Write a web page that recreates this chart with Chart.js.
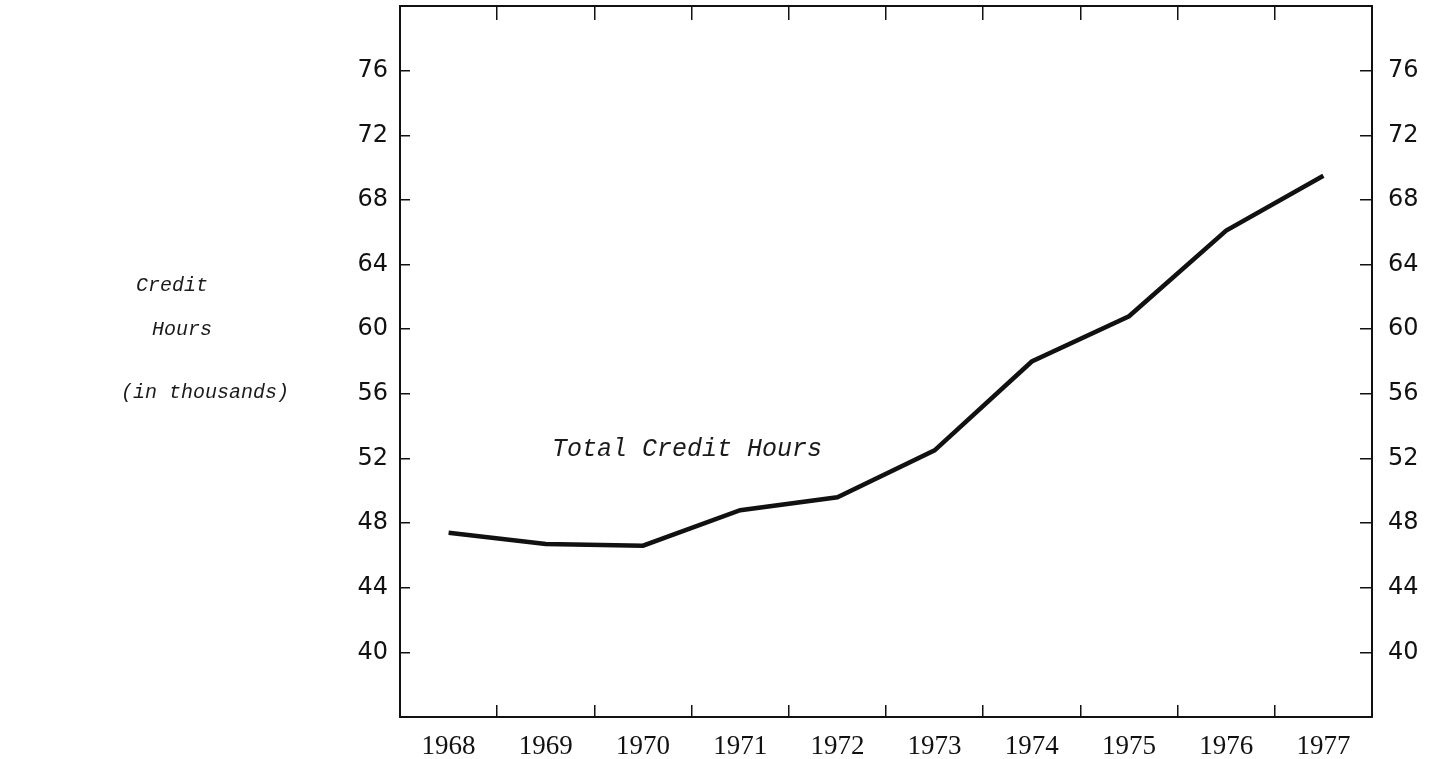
<!DOCTYPE html>
<html>
<head>
<meta charset="utf-8">
<title>Total Credit Hours 1968-1977</title>
<script src="https://cdn.jsdelivr.net/npm/chart.js@4.4.1/dist/chart.umd.min.js"></script>
<style>
    html, body { margin: 0; padding: 0; background: #fff; }
    #wrap { position: relative; width: 1432px; height: 759px; }
    .rotulo {
        position: absolute;
        font-family: "Liberation Mono", "DejaVu Sans Mono", monospace;
        font-style: italic;
        color: #1a1a1a;
        white-space: nowrap;
        transform: translate(-50%, -50%);
    }
    .eixo { font-size: 20px; }
    .serie { font-size: 25px; }
</style>
</head>
<body>
<div id="wrap">
    <canvas id="grafico" width="1432" height="759"></canvas>
    <div class="rotulo eixo" style="left:172px; top:285px;">Credit</div>
    <div class="rotulo eixo" style="left:182px; top:329px;">Hours</div>
    <div class="rotulo eixo" style="left:205px; top:392px;">(in thousands)</div>
    <div class="rotulo serie" style="left:687px; top:449px;">Total Credit Hours</div>
</div>
<script>
// dados (milhares de horas)
const anos = ['1968', '1969', '1970', '1971', '1972', '1973', '1974', '1975', '1976', '1977'];
const horasCredito = [47.4, 46.7, 46.6, 48.8, 49.6, 52.5, 58.0, 60.8, 66.1, 69.5];
const ticksY = [40, 44, 48, 52, 56, 60, 64, 68, 72, 76];

const preto = '#111';

// so os ticks de 40 a 76, o eixo vai de 36 a 80
function ticksFixos(scale) {
    scale.ticks = ticksY.map(v => ({ value: v }));
}

// tira o espaco extra que o Chart.js reserva para os rotulos
function semPadding(scale) {
    scale.paddingTop = 0;
    scale.paddingBottom = 0;
    scale.paddingLeft = 0;
    scale.paddingRight = 0;
}

const ctx = document.getElementById('grafico').getContext('2d');

new Chart(ctx, {
    type: 'line',
    data: {
        labels: anos,
        datasets: [{
            label: 'Total Credit Hours',
            data: horasCredito,
            borderColor: preto,
            borderWidth: 4.5,
            pointRadius: 0,
            tension: 0,
            fill: false,
            xAxisID: 'x',
            yAxisID: 'y'
        }]
    },
    options: {
        responsive: false,
        animation: false,
        devicePixelRatio: 1,
        layout: { padding: 0 },
        plugins: {
            legend: { display: false },
            tooltip: { enabled: false }
        },
        scales: {
            x: {
                type: 'category',
                position: 'bottom',
                offset: true,
                grid: {
                    offset: true,
                    drawOnChartArea: false,
                    drawTicks: true,
                    tickLength: -12,
                    color: preto,
                    lineWidth: 1.5
                },
                border: { display: true, color: preto, width: 2 },
                ticks: {
                    color: preto,
                    font: { family: '"Liberation Serif", serif', size: 27 },
                    padding: 26,
                    maxRotation: 0,
                    autoSkip: false
                },
                afterFit: s => { s.height = 42; semPadding(s); }
            },
            xTopo: {
                type: 'category',
                position: 'top',
                display: true,
                offset: true,
                grid: {
                    offset: true,
                    drawOnChartArea: false,
                    drawTicks: true,
                    tickLength: -14,
                    color: preto,
                    lineWidth: 1.5
                },
                border: { display: true, color: preto, width: 2 },
                ticks: { display: false },
                afterFit: s => { s.height = 6; semPadding(s); }
            },
            y: {
                type: 'linear',
                position: 'left',
                min: 36,
                max: 80,
                afterBuildTicks: ticksFixos,
                grid: {
                    drawOnChartArea: false,
                    drawTicks: true,
                    tickLength: -10,
                    color: preto,
                    lineWidth: 1.5
                },
                border: { display: true, color: preto, width: 2 },
                ticks: {
                    color: preto,
                    font: { family: '"DejaVu Sans", sans-serif', size: 24 },
                    padding: 22
                },
                afterFit: s => { s.width = 400; semPadding(s); }
            },
            yDireita: {
                type: 'linear',
                position: 'right',
                display: true,
                min: 36,
                max: 80,
                afterBuildTicks: ticksFixos,
                grid: {
                    drawOnChartArea: false,
                    drawTicks: true,
                    tickLength: -12,
                    color: preto,
                    lineWidth: 1.5
                },
                border: { display: true, color: preto, width: 2 },
                ticks: {
                    color: preto,
                    font: { family: '"DejaVu Sans", sans-serif', size: 24 },
                    padding: 28
                },
                afterFit: s => { s.width = 60; semPadding(s); }
            }
        }
    }
});
</script>
</body>
</html>
